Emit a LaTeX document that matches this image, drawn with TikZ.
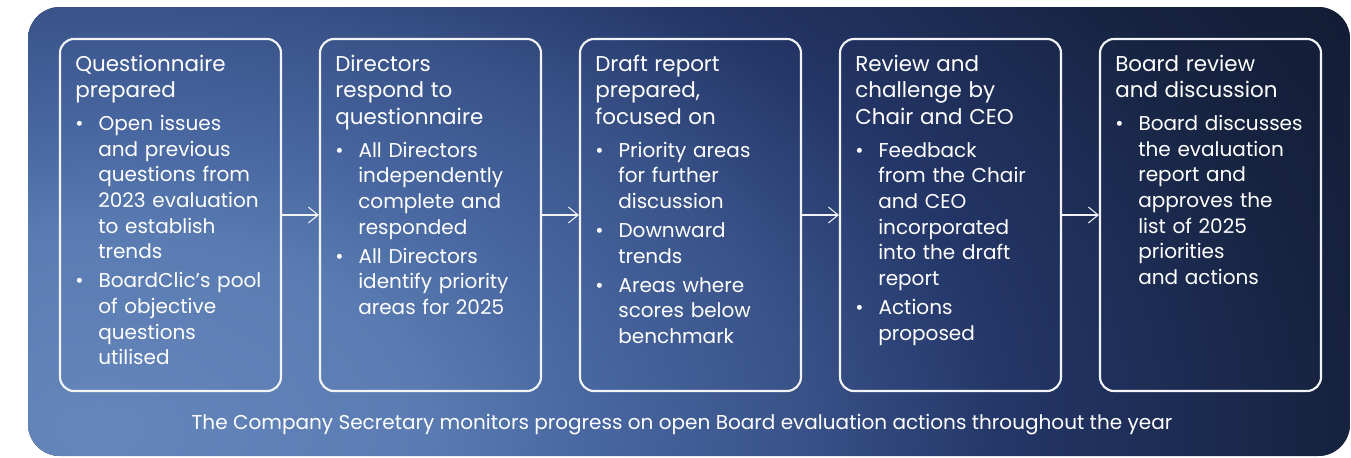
\documentclass[tikz,border=0pt]{standalone}
\usepackage{fontspec}
\setmainfont{Poppins}
\usetikzlibrary{arrows.meta}

\definecolor{boxline}{RGB}{242,244,248}
\definecolor{glowA}{RGB}{100,134,187}
\definecolor{glowB}{RGB}{90,124,178}
\definecolor{glowC}{RGB}{72,102,160}
\definecolor{glowD}{RGB}{58,84,138}
\definecolor{glowE}{RGB}{36,54,104}
\definecolor{glowF}{RGB}{22,35,64}
\definecolor{glowG}{RGB}{19,29,54}
\pgfdeclareradialshading{boardglow}{\pgfpoint{0bp}{0bp}}{color(0bp)=(glowA); color(5.5bp)=(glowB); color(8.35bp)=(glowC); color(11.65bp)=(glowD); color(15.3bp)=(glowE); color(20.85bp)=(glowF); color(23.9bp)=(glowG); color(50bp)=(glowG)}

\newcommand{\stagehead}[1]{{\fontsize{12.2}{15.2}\selectfont\strut #1\par}}
\newenvironment{stagepoints}{\begin{list}{\textbullet}{%
  \setlength{\leftmargin}{0.46cm}\setlength{\labelsep}{0.3cm}%
  \setlength{\labelwidth}{0.16cm}\setlength{\topsep}{4.1pt}%
  \setlength{\partopsep}{0pt}\setlength{\itemsep}{1.9pt}%
  \setlength{\parsep}{0pt}}}{\end{list}}

\begin{document}
\begin{tikzpicture}[
    stage/.style={draw=boxline, line width=1.2pt, rounded corners=8pt, minimum width=4.42cm, minimum height=7.04cm},
    stagetext/.style={anchor=north west, text width=4.2cm, align=left, inner sep=0pt, text=white, font=\fontsize{11.4}{14.6}\selectfont},
    flow/.style={-{Straight Barb[length=5.5pt,width=9pt]}, draw=boxline, line width=0.6pt}
  ]
  \useasboundingbox (0,0) rectangle (27.02,-9.14);
  % backdrop
  \begin{scope}
    \clip[rounded corners=0.64cm] (0.56,-0.14) rectangle (27.0,-9.12);
    \fill[glowG] (0.56,-0.14) rectangle (27.0,-9.12);
    \shade[shading=boardglow] (2.0,-8.6) ellipse [x radius=29.5cm, y radius=18cm];
  \end{scope}

  \node[stage] (prep) at (3.41,-4.3) {};
  \node[stage] (respond) at (8.61,-4.3) {};
  \node[stage] (draft) at (13.81,-4.3) {};
  \node[stage] (challenge) at (19.01,-4.3) {};
  \node[stage] (board) at (24.21,-4.3) {};

  \node[stagetext] (prept) at ([xshift=0.32cm, yshift=-0.28cm]prep.north west) {%
    \stagehead{Questionnaire\\prepared}
    \begin{stagepoints}
      \item Open issues\\and previous\\questions from\\2023 evaluation\\to establish\\trends
      \item BoardClic’s pool\\of objective\\questions\\utilised
    \end{stagepoints}};
  \node[stagetext] (respondt) at ([xshift=0.32cm, yshift=-0.28cm]respond.north west) {%
    \stagehead{Directors\\respond to\\questionnaire}
    \begin{stagepoints}
      \item All Directors\\independently\\complete and\\responded
      \item All Directors\\identify priority\\areas for 2025
    \end{stagepoints}};
  \node[stagetext] (draftt) at ([xshift=0.32cm, yshift=-0.28cm]draft.north west) {%
    \stagehead{Draft report\\prepared,\\focused on}
    \begin{stagepoints}
      \item Priority areas\\for further\\discussion
      \item Downward\\trends
      \item Areas where\\scores below\\benchmark
    \end{stagepoints}};
  \node[stagetext] (challenget) at ([xshift=0.32cm, yshift=-0.28cm]challenge.north west) {%
    \stagehead{Review and\\challenge by\\Chair and CEO}
    \begin{stagepoints}
      \item Feedback\\from the Chair\\and CEO\\incorporated\\into the draft\\report
      \item Actions\\proposed
    \end{stagepoints}};
  \node[stagetext] (boardt) at ([xshift=0.32cm, yshift=-0.28cm]board.north west) {%
    \stagehead{Board review\\and discussion}
    \begin{stagepoints}
      \item Board discusses\\the evaluation\\report and\\approves the\\list of 2025\\priorities\\and actions
    \end{stagepoints}};

  \draw[flow] (prep) -- (respond);
  \draw[flow] (respond) -- (draft);
  \draw[flow] (draft) -- (challenge);
  \draw[flow] (challenge) -- (board);

  \node[text=white, font=\fontsize{11.4}{13}\selectfont] (secretary) at (13.64,-8.5) {The Company Secretary monitors progress on open Board evaluation actions throughout the year};
\end{tikzpicture}
\end{document}
